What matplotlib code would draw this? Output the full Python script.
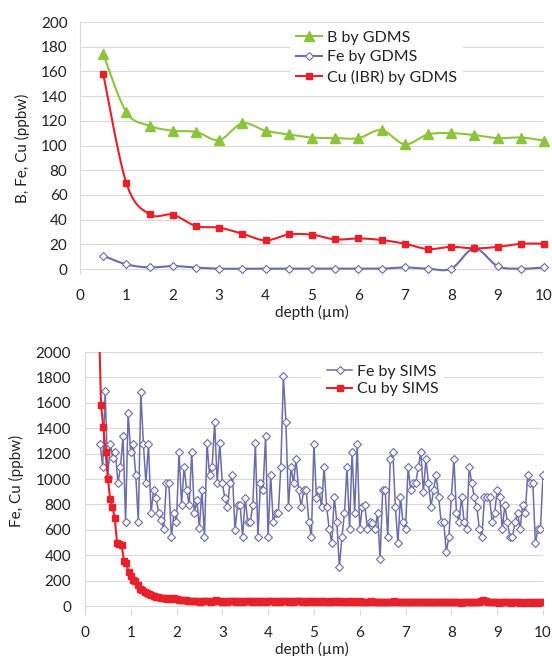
import numpy as np
import matplotlib.pyplot as plt

plt.rcParams['font.family'] = ['Lato', 'DejaVu Sans']

# --- top panel: GDMS (ppbw) ---
depth_gdms = [0.5, 1.0, 1.5, 2.0, 2.5, 3.0, 3.5, 4.0, 4.5, 5.0,
              5.5, 6.0, 6.5, 7.0, 7.5, 8.0, 8.5, 9.0, 9.5, 10.0]
b_gdms = [174, 127, 116, 112, 111, 104.5, 118, 112, 109, 106.5,
          106, 106, 112.5, 101, 109, 110, 108.5, 106, 106.5, 104]
fe_gdms = [10.8, 3.8, 1.3, 2.4, 1.2, 0.3, 0.3, 0.3, 0.3, 0.3,
           0.3, 0.3, 0.3, 1.3, 0.3, 0.3, 16.7, 2.4, 0.3, 1.3]
cu_gdms = [158, 69.4, 44.3, 44, 34.8, 33.5, 28.6, 23.2, 28, 27.8,
           24, 24.8, 23.5, 20.5, 16.2, 18, 16.7, 18, 20.5, 20.5]

# --- bottom panel: SIMS (ppbw), evenly spaced profiles ---
fe_sims = [
    1275, 1094, 1692, 1015, 1275, 1165, 1212, 968, 1094, 1338,
    661, 1519, 1212, 1275, 1031, 661, 1684, 1275, 968, 1275,
    732, 913, 850, 732, 677, 606, 968, 968, 543, 732,
    661, 1212, 795, 1094, 913, 795, 1212, 732, 834, 614,
    913, 543, 1283, 1031, 1094, 1448, 968, 1283, 968, 850,
    780, 968, 1031, 598, 795, 795, 543, 850, 661, 661,
    795, 1283, 543, 968, 913, 1338, 543, 1031, 661,
    732, 732, 1094, 1810, 1448, 780, 1094, 968, 1157, 913,
    780, 913, 913, 661, 543, 1275, 850, 913, 780, 1094,
    780, 606, 496, 858, 661, 307, 543, 732, 1094, 606,
    1212, 732, 1275, 606, 780,
    795, 606, 661, 653, 606, 732, 370, 913, 913, 543,
    1157, 1212, 780, 496, 858, 661, 606, 1094, 913, 968,
    968, 1094, 1212, 897, 1157, 968, 780, 913, 1031, 858,
    661, 661, 425, 543, 858, 1157,
    732, 661, 858, 661, 606, 1094, 968, 858, 780, 606,
    543, 858, 858, 858, 661, 732, 913, 858, 606, 795,
    661, 543, 543, 661, 732, 606, 795, 732, 1031, 968,
    968, 496, 606, 606, 1031]
fe_sims_start, fe_sims_end = 0.33, 10.0

cu_sims = [
    2300, 1580, 1410, 1210, 1000, 840, 780, 690, 500, 490,
    480, 355, 340, 270, 235, 205, 200, 165, 135, 130,
    110, 100, 92, 85, 78, 72, 70, 66, 62, 66,
    58, 60, 55, 62, 52, 48, 50, 44, 46, 40,
    42, 38, 36, 40, 34,
    38, 42, 36, 40, 34, 39, 44, 37, 41, 35,
    38, 33, 40, 36, 42, 35, 39, 37, 34, 41,
    36, 39, 33, 38, 42, 35, 37, 40, 34, 38,
    36, 41, 35, 39, 33, 37, 40, 36, 34, 38,
    35, 39, 42, 36, 33, 38, 35, 40, 37, 34,
    38, 33, 36, 40, 35, 32, 37, 34, 39, 36,
    33, 37, 35, 31, 38, 34, 36, 32, 35, 38,
    33, 30, 35, 32, 36, 31, 34, 29, 33, 35,
    31, 34, 30, 33, 36, 32, 29, 34, 31, 33,
    30, 35, 32, 28, 33, 31, 34, 29, 32, 30,
    33, 29, 31, 34, 28, 32, 30, 33, 29, 31,
    28, 32, 30, 27, 33, 29, 31, 28, 30, 34,
    29, 31, 36, 48, 42, 30, 28, 32, 29, 31,
    27, 30, 28, 32, 29, 26, 30, 28, 31, 27,
    29, 26, 30, 28, 27, 31, 28, 26, 29, 28]
cu_sims_start, cu_sims_end = 0.30, 10.0

GREEN = '#8CC43C'
NAVY = '#6A6DA8'
RED = '#E8202A'
GRID = '#D9D9D9'
TXT = '#222222'


def smooth(x, y, n=20):
    # excel-like smoothed line (catmull-rom through the points)
    x = np.asarray(x, float)
    y = np.asarray(y, float)
    px = np.concatenate([[x[0]], x, [x[-1]]])
    py = np.concatenate([[y[0]], y, [y[-1]]])
    xs, ys = [], []
    for i in range(1, len(px) - 2):
        for t in np.linspace(0, 1, n, endpoint=False):
            for p, out in ((px, xs), (py, ys)):
                p0, p1, p2, p3 = p[i - 1], p[i], p[i + 1], p[i + 2]
                out.append(0.5 * (2 * p1 + (p2 - p0) * t
                                  + (2 * p0 - 5 * p1 + 4 * p2 - p3) * t ** 2
                                  + (-p0 + 3 * p1 - 3 * p2 + p3) * t ** 3))
    xs.append(x[-1])
    ys.append(y[-1])
    return xs, ys


def style(ax, ymin, ymax, ystep, ypad, xpad, xticks=False):
    ax.set_xlim(0, 10)
    ax.set_ylim(ymin, ymax)
    ax.set_xticks(range(11))
    ax.set_yticks(np.arange(0, ymax + 1, ystep))
    for s in ['top', 'right', 'bottom']:
        ax.spines[s].set_visible(False)
    ax.spines['left'].set_color(GRID)
    ax.yaxis.grid(True, color=GRID, lw=0.8)
    ax.set_axisbelow(True)
    ax.tick_params(axis='y', length=0, pad=ypad, labelsize=11, colors=TXT)
    if xticks:
        ax.tick_params(axis='x', length=4, color=GRID, pad=xpad, labelsize=11,
                       labelcolor=TXT)
    else:
        ax.tick_params(axis='x', length=0, pad=xpad, labelsize=11, colors=TXT)


fig = plt.figure(figsize=(5.52, 6.56), dpi=100)
W, H = 552.0, 656.0

# top panel
ax1 = fig.add_axes([80 / W, 1 - 274 / H, 464 / W, 252 / H])
style(ax1, -4, 200, 20, 9, 11)
ax1.plot(*smooth(depth_gdms, b_gdms), color=GREEN, lw=1.5, clip_on=False)
ax1.plot(depth_gdms, b_gdms, ls='none', marker='^', ms=7, color=GREEN, clip_on=False)
ax1.plot(*smooth(depth_gdms, fe_gdms), color=NAVY, lw=1.5, clip_on=False)
ax1.plot(depth_gdms, fe_gdms, ls='none', marker='D', ms=4, mfc='white', mec=NAVY,
         mew=0.8, clip_on=False)
ax1.plot(*smooth(depth_gdms, cu_gdms), color=RED, lw=1.5, clip_on=False)
ax1.plot(depth_gdms, cu_gdms, ls='none', marker='s', ms=5, color=RED, clip_on=False)

h1 = ax1.plot([], [], color=GREEN, lw=1.5, marker='^', ms=7)[0]
h2 = ax1.plot([], [], color=NAVY, lw=1.5, marker='D', ms=4, mfc='white', mec=NAVY, mew=0.8)[0]
h3 = ax1.plot([], [], color=RED, lw=1.5, marker='s', ms=5)[0]
leg1 = ax1.legend([h1, h2, h3], ['B by GDMS', 'Fe by GDMS', 'Cu (IBR) by GDMS'],
                  loc='upper left', bbox_to_anchor=(290 / W, 1 - 24 / H),
                  bbox_transform=fig.transFigure, frameon=True, fancybox=False,
                  edgecolor='none', facecolor='white', framealpha=1, fontsize=11.5,
                  handlelength=1.6, handletextpad=0.3, labelspacing=0.35,
                  borderpad=0.4, borderaxespad=0)
for t in leg1.get_texts():
    t.set_color(TXT)
ax1.set_ylabel('B, Fe, Cu (ppbw)', fontsize=11, color=TXT, labelpad=8)
fig.text(312 / W, 1 - 312 / H, 'depth (\u00b5m)', ha='center', va='center',
         fontsize=11, color=TXT)

# bottom panel
ax2 = fig.add_axes([85 / W, 1 - 609.2 / H, 458 / W, 257.2 / H])
style(ax2, -25, 2000, 200, 10, 8, xticks=True)
fe_depth = np.linspace(fe_sims_start, fe_sims_end, len(fe_sims))
cu_depth = np.linspace(cu_sims_start, cu_sims_end, len(cu_sims))
f1, = ax2.plot(fe_depth, fe_sims, color=NAVY, lw=1.1, marker='D', ms=4.2,
               mfc='white', mec=NAVY, mew=0.8)
f2, = ax2.plot(cu_depth, cu_sims, color=RED, lw=1.5, marker='s', ms=4.5)
leg2 = ax2.legend([f1, f2], ['Fe by SIMS', 'Cu by SIMS'],
                  loc='upper left', bbox_to_anchor=(322 / W, 1 - 360 / H),
                  bbox_transform=fig.transFigure, frameon=True, fancybox=False,
                  edgecolor='none', facecolor='white', framealpha=1, fontsize=11.5,
                  handlelength=1.6, handletextpad=0.3, labelspacing=0.2,
                  borderpad=0.3, borderaxespad=0)
for t in leg2.get_texts():
    t.set_color(TXT)
ax2.set_ylabel('Fe, Cu (ppbw)', fontsize=11, color=TXT, labelpad=8)
fig.text(312 / W, 1 - 649 / H, 'depth (\u00b5m)', ha='center', va='center',
         fontsize=11, color=TXT)

fig.savefig('out.png', dpi=100, facecolor='white')
